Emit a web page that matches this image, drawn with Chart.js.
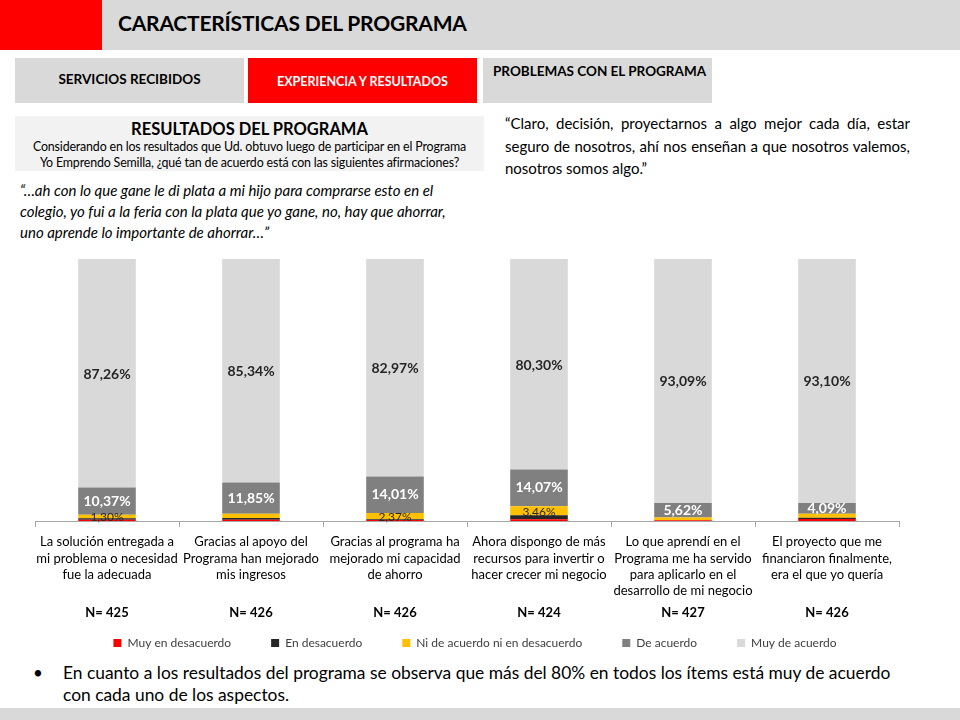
<!DOCTYPE html>
<html>
<head>
<meta charset="utf-8">
<script src="https://cdn.jsdelivr.net/npm/chart.js@4.4.0/dist/chart.umd.min.js"></script>
<style>
  html,body{margin:0;padding:0;background:#fff;}
  body{width:960px;height:720px;position:relative;overflow:hidden;font-family:Lato,"Open Sans",sans-serif;color:#000;}
  .abs{position:absolute;}
  #hdr{left:0;top:0;width:960px;height:50px;background:#D9D9D9;}
  #hdrRed{left:0;top:0;width:102px;height:50px;background:#FF0000;}
  #title{left:118px;top:10px;font-size:21px;font-weight:bold;letter-spacing:-0.2px;white-space:nowrap;}
  .tab{top:58px;height:45px;width:229px;background:#D9D9D9;font-size:13.5px;font-weight:bold;text-align:center;box-sizing:border-box;white-space:nowrap;}
  #box{left:15px;top:116px;width:469px;height:55px;background:#F2F2F2;text-align:center;}
  #boxT{font-size:16.5px;font-weight:bold;margin-top:3px;line-height:20px;}
  #boxS{font-size:12.4px;line-height:16px;letter-spacing:-0.15px;white-space:nowrap;}
  #q1{left:20px;top:180px;width:460px;font-size:15px;font-style:italic;line-height:21px;white-space:nowrap;}
  #q2{left:505px;top:112px;width:405px;font-size:15px;line-height:22.5px;}
  #q2 .j{text-align:justify;text-align-last:justify;}
  #chartWrap{left:0;top:250px;width:960px;height:409px;}
  #bullet{left:63px;top:662px;width:890px;font-size:17.4px;line-height:22px;white-space:nowrap;}
  #bdot{left:33px;top:662px;font-size:17px;line-height:22px;}
  #foot{left:0;top:708px;width:960px;height:12px;background:#D9D9D9;}
</style>
</head>
<body>
<div class="abs" id="hdr"></div>
<div class="abs" id="hdrRed"></div>
<div class="abs" id="title">CARACTERÍSTICAS DEL PROGRAMA</div>
<div class="abs tab" style="left:15px;padding-top:13px;">SERVICIOS RECIBIDOS</div>
<div class="abs tab" style="left:248px;background:#FF0000;color:#fff;padding-top:16px;font-size:12.5px;">EXPERIENCIA Y RESULTADOS</div>
<div class="abs tab" style="left:483px;padding-top:5px;text-align:left;padding-left:10px;">PROBLEMAS CON EL PROGRAMA</div>
<div class="abs" id="box">
  <div id="boxT">RESULTADOS DEL PROGRAMA</div>
  <div id="boxS">Considerando en los resultados que Ud. obtuvo luego de participar en el Programa<br>Yo Emprendo Semilla, ¿qué tan de acuerdo está con las siguientes afirmaciones?</div>
</div>
<div class="abs" id="q1">“…ah con lo que gane le di plata a mi hijo para comprarse esto en el<br>colegio, yo fui a la feria con la plata que yo gane, no, hay que ahorrar,<br>uno aprende lo importante de ahorrar…”</div>
<div class="abs" id="q2"><div class="j">“Claro, decisión, proyectarnos a algo mejor cada día, estar</div><div class="j">seguro de nosotros, ahí nos enseñan a que nosotros valemos,</div><div>nosotros somos algo.”</div></div>
<div class="abs" id="chartWrap"><canvas id="c"></canvas></div>
<div class="abs" id="bdot">•</div>
<div class="abs" id="bullet">En cuanto a los resultados del programa se observa que más del 80% en todos los ítems está muy de acuerdo<br>con cada uno de los aspectos.</div>
<div class="abs" id="foot"></div>
<script>
const categories = [
  ["La solución entregada a","mi problema o necesidad","fue la adecuada"],
  ["Gracias al apoyo del","Programa han mejorado","mis ingresos"],
  ["Gracias al programa ha","mejorado mi capacidad","de ahorro"],
  ["Ahora dispongo de más","recursos para invertir o","hacer crecer mi negocio"],
  ["Lo que aprendí en el","Programa me ha servido","para aplicarlo en el","desarrollo de mi negocio"],
  ["El proyecto que me","financiaron finalmente,","era el que yo quería"]
];
const nLabels = ["N= 425","N= 426","N= 426","N= 424","N= 427","N= 426"];
const muyEnDesacuerdo = [0.47, 0.47, 0.42, 0.67, 0.24, 0.74];
const enDesacuerdo    = [0.60, 0.70, 0.23, 1.50, 0.00, 0.47];
const niDeAcuerdo     = [1.30, 1.64, 2.37, 3.46, 1.05, 1.60];
const deAcuerdo       = [10.37, 11.85, 14.01, 14.07, 5.62, 4.09];
const muyDeAcuerdo    = [87.26, 85.34, 82.97, 80.30, 93.09, 93.10];
const niLabelShown    = [true, false, true, true, false, false];

const seriesNames = ["Muy en desacuerdo","En desacuerdo","Ni de acuerdo ni en desacuerdo","De acuerdo","Muy de acuerdo"];
const seriesColors = ["#FF0000","#262626","#FFC000","#808080","#D9D9D9"];
const seriesData = [muyEnDesacuerdo, enDesacuerdo, niDeAcuerdo, deAcuerdo, muyDeAcuerdo];

const fmt = v => v.toFixed(2).replace('.', ',') + '%';

const labelPlugin = {
  id: 'segLabels',
  afterDatasetsDraw(chart) {
    const ctx = chart.ctx;
    ctx.save();
    ctx.textAlign = 'center';
    ctx.textBaseline = 'middle';
    chart.data.datasets.forEach((ds, di) => {
      const meta = chart.getDatasetMeta(di);
      meta.data.forEach((bar, i) => {
        const v = ds.data[i];
        const yc = (bar.y + bar.base) / 2;
        if (di === 4) {
          ctx.font = 'bold 14px Lato, sans-serif';
          ctx.fillStyle = '#262626';
          ctx.fillText(fmt(v), bar.x, yc + 1);
        } else if (di === 3) {
          ctx.font = 'bold 14px Lato, sans-serif';
          ctx.fillStyle = '#FFFFFF';
          ctx.fillText(fmt(v), bar.x, yc);
        } else if (di === 2 && niLabelShown[i]) {
          ctx.font = '12px Lato, sans-serif';
          ctx.fillStyle = '#262626';
          ctx.fillText(fmt(v), bar.x, yc + 1);
        }
      });
    });
    const xs = chart.scales.x;
    ctx.font = 'bold 13px Lato, sans-serif';
    ctx.fillStyle = '#000';
    nLabels.forEach((t, i) => {
      ctx.fillText(t, xs.getPixelForValue(i), xs.top + 92);
    });
    ctx.restore();
  }
};

const hiddenAxis = (w, pos) => ({
  position: pos, display: true, min: 0, max: 100,
  ticks: { display: false }, grid: { display: false, drawTicks: false }, border: { display: false },
  afterFit(a) { a.width = w; }
});

new Chart(document.getElementById('c'), {
  type: 'bar',
  data: {
    labels: categories,
    datasets: seriesNames.map((n, k) => ({
      label: n,
      data: seriesData[k],
      backgroundColor: seriesColors[k],
      borderWidth: 0,
      categoryPercentage: 1.0,
      barPercentage: 0.4
    }))
  },
  options: {
    responsive: true,
    maintainAspectRatio: false,
    animation: false,
    layout: { padding: { left: 0, right: 10, top: 9, bottom: 0 } },
    plugins: {
      legend: {
        position: 'bottom',
        labels: {
          boxWidth: 8, boxHeight: 8, padding: 40,
          color: '#404040',
          font: { size: 12, family: 'Lato, sans-serif' }
        }
      },
      tooltip: { enabled: false }
    },
    scales: {
      x: {
        stacked: true,
        offset: true,
        grid: { offset: true, drawOnChartArea: false, drawTicks: true, tickLength: 6, color: '#A6A6A6' },
        border: { color: '#A6A6A6' },
        ticks: {
          autoSkip: false, maxRotation: 0, minRotation: 0, padding: 7,
          color: '#000',
          font: { size: 13, family: 'Lato, sans-serif', lineHeight: 1.25 }
        },
        afterFit(axis) { axis.height = 76; }
      },
      y: Object.assign({ stacked: true }, hiddenAxis(35, 'left')),
      y2: hiddenAxis(51, 'right')
    }
  },
  plugins: [labelPlugin]
});
</script>
</body>
</html>
